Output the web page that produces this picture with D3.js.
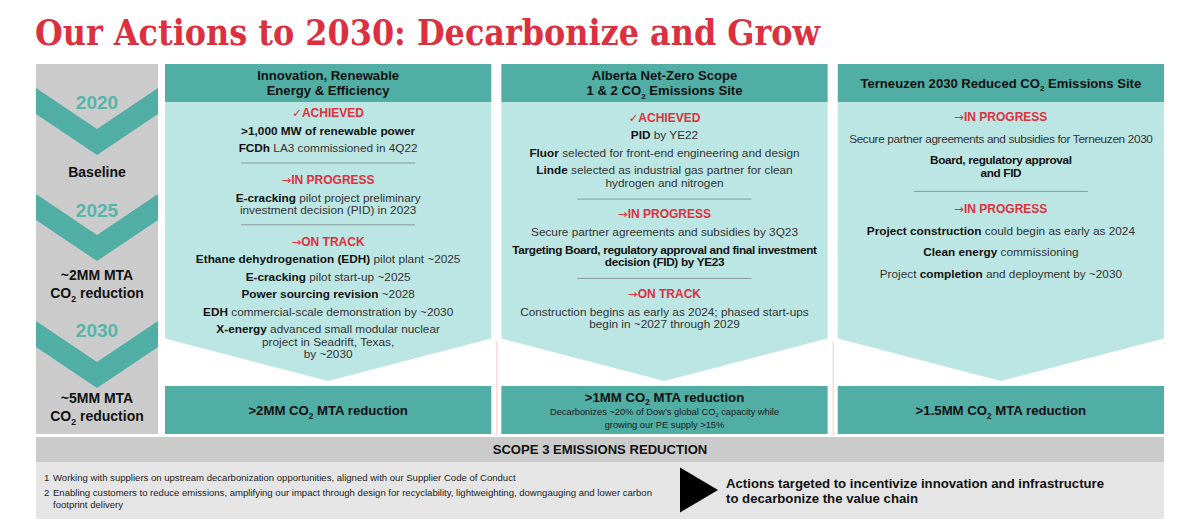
<!DOCTYPE html>
<html>
<head>
<meta charset="utf-8">
<script src="https://cdn.jsdelivr.net/npm/d3@7"></script>
<style>
  html, body { margin: 0; padding: 0; background: #fff; }
  svg { display: block; font-family: "Liberation Sans", Arial, sans-serif; }
</style>
</head>
<body>
<div id="visualization"></div>
<script>
let titleText = "Our Actions to 2030: Decarbonize and Grow";

let years = ["2020", "2025", "2030"];
let milestones = [["**Baseline**"], ["**~2MM MTA**", "**CO_2 reduction**"], ["**~5MM MTA**", "**CO_2 reduction**"]];

let columnTitles = [
  ["Innovation, Renewable", "Energy & Efficiency"],
  ["Alberta Net-Zero Scope", "1 & 2 CO_2 Emissions Site"],
  ["Terneuzen 2030 Reduced CO_2 Emissions Site"],
];

let innovationBlocks = [
  { mark: "✓", status: "ACHIEVED", items: [["**>1,000 MW of renewable power**"], ["**FCDh** LA3 commissioned in 4Q22"]] },
  { mark: "→", status: "IN PROGRESS", items: [["**E-cracking** pilot project preliminary", "investment decision (PID) in 2023"]] },
  {
    mark: "→",
    status: "ON TRACK",
    items: [
      ["**Ethane dehydrogenation (EDH)** pilot plant ~2025"],
      ["**E-cracking** pilot start-up ~2025"],
      ["**Power sourcing revision** ~2028"],
      ["**EDH** commercial-scale demonstration by ~2030"],
      ["**X-energy** advanced small modular nuclear", "project in Seadrift, Texas,", "by ~2030"],
    ],
  },
];

let albertaBlocks = [
  {
    mark: "✓",
    status: "ACHIEVED",
    items: [
      ["**PID** by YE22"],
      ["**Fluor** selected for front-end engineering and design"],
      ["**Linde** selected as industrial gas partner for clean", "hydrogen and nitrogen"],
    ],
  },
  {
    mark: "→",
    status: "IN PROGRESS",
    items: [
      ["Secure partner agreements and subsidies by 3Q23"],
      ["**Targeting Board, regulatory approval and final investment**", "**decision (FID) by YE23**"],
    ],
  },
  { mark: "→", status: "ON TRACK", items: [["Construction begins as early as 2024; phased start-ups", "begin in ~2027 through 2029"]] },
];

let terneuzenBlocks = [
  {
    mark: "→",
    status: "IN PROGRESS",
    items: [["Secure partner agreements and subsidies for Terneuzen 2030"], ["**Board, regulatory approval**", "**and FID**"]],
  },
  {
    mark: "→",
    status: "IN PROGRESS",
    items: [
      ["**Project construction** could begin as early as 2024"],
      ["**Clean energy** commissioning"],
      ["Project **completion** and deployment by ~2030"],
    ],
  },
];

let columnBlocks = [innovationBlocks, albertaBlocks, terneuzenBlocks];

// these lines are set with tighter tracking on the slide
let tightLines = [
  "Secure partner agreements and subsidies for Terneuzen 2030",
  "**Board, regulatory approval**",
  "**and FID**",
  "**Targeting Board, regulatory approval and final investment**",
  "**decision (FID) by YE23**",
];

let targetTitles = [">2MM CO_2 MTA reduction", ">1MM CO_2 MTA reduction", ">1.5MM CO_2 MTA reduction"];
let targetNotes = [[], ["Decarbonizes ~20% of Dow’s global CO_2 capacity while", "growing our PE supply >15%"], []];

let scopeTitle = "SCOPE 3 EMISSIONS REDUCTION";
let scopeNotes = [
  ["Working with suppliers on upstream decarbonization opportunities, aligned with our Supplier Code of Conduct"],
  ["Enabling customers to reduce emissions, amplifying our impact through design for recyclability, lightweighting, downgauging and lower carbon", "footprint delivery"],
];
let scopeAction = ["Actions targeted to incentivize innovation and infrastructure", "to decarbonize the value chain"];

let width = 1200;
let height = 531;

let red = "#dc3040";
let teal = "#50aea5";
let paleTeal = "#bce6e3";
let yearTeal = "#54b5aa";
let grey = "#cbcbcb";
let paleGrey = "#e5e5e5";

// flow rules for the column text, one value per column
let flowStart = [112.7, 117.3, 116.7];
let headGap = [18, 18, 22];
let itemGap = [17.5, 17.5, 21.5];
let ruleBefore = [14.8, 16.3, 18.7];
let ruleAfter = [16.5, 15, 17.3];
let wrapGap = 12.5;

let x = d3.scaleBand().domain(d3.range(3)).range([165, 1164]).paddingInner(0.03);

let svg = d3.select("#visualization").append("svg").attr("width", width).attr("height", height);

let poly = d3.line();

// writes "**bold**" and "_2" markup as tspans
function addRuns(text, str, size, color, boldColor) {
  let bold = false;
  let shift = 0;
  str.split(/(\*\*|_\d)/).forEach((part) => {
    if (part === "**") {
      bold = !bold;
      return;
    }
    if (!part) return;
    let sub = /^_\d$/.test(part);
    text
      .append("tspan")
      .attr("dy", sub ? size * 0.28 : shift)
      .style("font-size", (sub ? size * 0.62 : size) + "px")
      .style("font-weight", bold ? "bold" : "normal")
      .attr("fill", bold ? boldColor : color)
      .text(sub ? part.slice(1) : part);
    shift = sub ? -size * 0.28 : 0;
  });
}

function label(str, cx, cy, size, opts = {}) {
  let text = svg
    .append("text")
    .attr("x", cx)
    .attr("y", cy + size * 0.35)
    .attr("text-anchor", opts.anchor || "middle");
  addRuns(text, opts.bold ? "**" + str + "**" : str, size, opts.color || "#333", opts.boldColor || "#111");
  return text;
}

svg
  .append("text")
  .attr("x", 35)
  .attr("y", 45)
  .attr("fill", red)
  .style("font-family", '"DejaVu Serif", serif')
  .style("font-weight", "bold")
  .style("font-size", "35px")
  .attr("textLength", 785)
  .attr("lengthAdjust", "spacingAndGlyphs")
  .text(titleText);

// left timeline
let railLeft = 36;
let railRight = 158;
let railMid = (railLeft + railRight) / 2;
let chevronTops = [88, 194, 321];
let chevronDepth = 41;
let chevronBand = 26;
let yearCentres = [102, 210, 330];

svg
  .append("rect")
  .attr("x", railLeft)
  .attr("y", 64)
  .attr("width", railRight - railLeft)
  .attr("height", 370)
  .attr("fill", grey);

svg
  .selectAll(".chevron")
  .data(chevronTops)
  .enter()
  .append("path")
  .attr("class", "chevron")
  .attr("fill", teal)
  .attr("d", (d) =>
    poly([
      [railLeft, d],
      [railMid, d + chevronDepth],
      [railRight, d],
      [railRight, d + chevronBand],
      [railMid, d + chevronDepth + chevronBand],
      [railLeft, d + chevronBand],
    ]) + "Z"
  );

years.forEach((y, i) => {
  label(y, railMid, yearCentres[i], 19, { bold: true, boldColor: yearTeal });
});

let milestoneCentres = [172.5, 275, 398.5];
milestones.forEach((lines, i) => {
  lines.forEach((line, j) => {
    label(line, railMid, milestoneCentres[i] + j * 17.8, 14);
  });
});

// pink separators between the lower halves of the columns
svg
  .selectAll(".separator")
  .data([1, 2])
  .enter()
  .append("line")
  .attr("class", "separator")
  .attr("x1", (d) => x(d) - 4.5)
  .attr("x2", (d) => x(d) - 4.5)
  .attr("y1", 342)
  .attr("y2", 435)
  .attr("stroke", "#f7cfd1")
  .attr("stroke-width", 1.2);

let headerTop = 64;
let headerBottom = 102;
let shoulder = 338.5;
let tip = 381;
let targetTop = 386;
let targetBottom = 434;

columnTitles.forEach((lines, c) => {
  let left = x(c);
  let right = left + x.bandwidth();
  let mid = (left + right) / 2;

  svg
    .append("path")
    .attr("fill", paleTeal)
    .attr(
      "d",
      poly([
        [left, headerBottom],
        [right, headerBottom],
        [right, shoulder],
        [mid, tip],
        [left, shoulder],
      ]) + "Z"
    );

  svg
    .append("rect")
    .attr("x", left)
    .attr("y", headerTop)
    .attr("width", x.bandwidth())
    .attr("height", headerBottom - headerTop)
    .attr("fill", teal);

  svg
    .append("rect")
    .attr("x", left)
    .attr("y", targetTop)
    .attr("width", x.bandwidth())
    .attr("height", targetBottom - targetTop)
    .attr("fill", teal);

  let headMid = (headerTop + headerBottom) / 2;
  lines.forEach((line, j) => {
    label(line, mid, headMid + (j - (lines.length - 1) / 2) * 15, 13.1, { bold: true });
  });

  // body text flows down from the start of the column
  let y = flowStart[c];
  columnBlocks[c].forEach((block, b) => {
    if (b > 0) {
      y += ruleBefore[c];
      svg
        .append("line")
        .attr("x1", mid - 87)
        .attr("x2", mid + 87)
        .attr("y1", y)
        .attr("y2", y)
        .attr("stroke", "#8a9796")
        .attr("stroke-width", 1);
      y += ruleAfter[c];
    }
    let head = svg
      .append("text")
      .attr("x", mid)
      .attr("y", y + 4.2)
      .attr("text-anchor", "middle")
      .attr("fill", red);
    head.append("tspan").style("font-size", "11.5px").style("font-family", '"DejaVu Sans"').text(block.mark);
    head.append("tspan").style("font-size", "12px").style("font-weight", "bold").text(block.status);

    y += headGap[c] - itemGap[c];
    block.items.forEach((item) => {
      y += itemGap[c];
      item.forEach((line, j) => {
        if (j > 0) y += wrapGap;
        label(line, mid, y, 11.8).style("letter-spacing", tightLines.includes(line) ? "-0.35px" : null);
      });
    });
  });

  // target boxes
  let notes = targetNotes[c];
  let targetY = notes.length ? 397 : 410.5;
  label(targetTitles[c], mid, targetY, 13.2, { bold: true });
  notes.forEach((line, j) => {
    label(line, mid, 411.5 + j * 13.5, 9.3, { color: "#1a1a1a" });
  });
});

// scope 3 band
svg.append("rect").attr("x", 36).attr("y", 437).attr("width", 1128).attr("height", 25).attr("fill", grey);
svg.append("rect").attr("x", 36).attr("y", 462).attr("width", 1128).attr("height", 57).attr("fill", paleGrey);
label(scopeTitle, 600, 449.5, 13.1, { bold: true });

let noteRows = [478, 492.5];
scopeNotes.forEach((lines, i) => {
  label(String(i + 1), 44, noteRows[i], 9.55, { anchor: "start", color: "#222" });
  lines.forEach((line, j) => {
    label(line, 53, noteRows[i] + j * 12, 9.55, { anchor: "start", color: "#222" });
  });
});

svg
  .append("path")
  .attr("fill", "#000")
  .attr(
    "d",
    poly([
      [680, 467.5],
      [718, 490],
      [680, 512.5],
    ]) + "Z"
  );

scopeAction.forEach((line, j) => {
  label(line, 726, 483 + j * 15, 13.2, { bold: true, anchor: "start" });
});
</script>
</body>
</html>
